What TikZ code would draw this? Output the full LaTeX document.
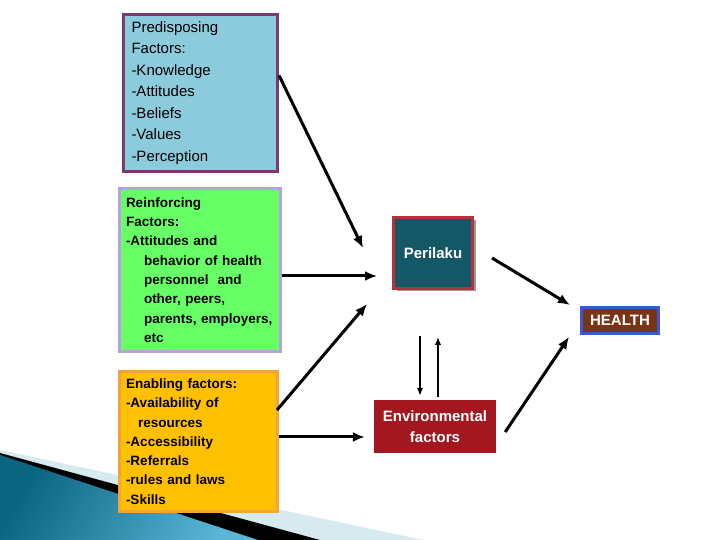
\documentclass[tikz,border=0pt]{standalone}
\usepackage{fontspec}
\setmainfont{Liberation Sans}
\usetikzlibrary{arrows.meta,shadows}

\begin{document}
\begin{tikzpicture}[x=1pt,y=1pt,
    box/.style={rectangle, line width=3pt, anchor=center},
    boxtext/.style={font=\fontsize{13.5}{19.3}\selectfont\bfseries, align=left},
    label/.style={font=\fontsize{15}{21}\selectfont\bfseries, text=white, align=center},
    arr/.style={line width=3pt, -{Latex[length=12pt,width=10pt]}},
    thinarr/.style={line width=1.5pt, -{Latex[length=8pt,width=6.5pt]}}]

    % 色の設定
    \definecolor{predfill}{HTML}{8CCBDC}
    \definecolor{predline}{HTML}{7A3A6E}
    \definecolor{reinffill}{HTML}{66FF66}
    \definecolor{reinfline}{HTML}{B9A2DC}
    \definecolor{enabfill}{HTML}{FFC000}
    \definecolor{enabline}{HTML}{F2A33A}
    \definecolor{perfill}{HTML}{145868}
    \definecolor{perline}{HTML}{B5313B}
    \definecolor{healthfill}{HTML}{7A3315}
    \definecolor{healthline}{HTML}{3A5BD0}
    \definecolor{envfill}{HTML}{A31820}
    \definecolor{swooshlight}{HTML}{D6EAF0}
    \definecolor{swooshdark}{HTML}{0B6480}
    \definecolor{swooshmid}{HTML}{5BB5D6}

    \useasboundingbox (0,0) rectangle (720,540);

    % 左下の飾り
    \fill[swooshlight] (0,90) -- (423,0) -- (0,0) -- cycle;
    \fill[black] (0,87) -- (320,0) -- (0,0) -- cycle;
    \shade[left color=swooshdark, right color=swooshmid, shading angle=60]
        (0,85) -- (258,0) -- (0,0) -- cycle;

    % 左の三つの要因
    \node[box, draw=predline, fill=predfill, minimum width=154pt, minimum height=157pt,
          text width=138pt, inner xsep=8pt, align=left,
          font=\fontsize{15}{21.5}\selectfont] (pred) at (200.5,447)
        {Predisposing\\Factors:\\-Knowledge\\-Attitudes\\-Beliefs\\-Values\\-Perception};

    \node[box, boxtext, draw=reinfline, fill=reinffill, minimum width=161pt, minimum height=163pt,
          text width=148pt, inner xsep=6.5pt] (reinf) at (200,270)
        {Reinforcing\\Factors:\\-Attitudes and\\\hspace*{18pt}behavior of health\\
         \hspace*{18pt}personnel\ \ and\\\hspace*{18pt}other, peers,\\
         \hspace*{18pt}parents, employers,\\\hspace*{18pt}etc};

    \node[box, boxtext, draw=enabline, fill=enabfill, minimum width=158pt, minimum height=140pt,
          text width=145pt, inner xsep=6.5pt] (enab) at (198.5,98.5)
        {Enabling factors:\\-Availability of\\\hspace*{12pt}resources\\-Accessibility\\
         -Referrals\\-rules and laws\\-Skills};

    % 右側の箱
    \node[box, label, draw=perline, fill=perfill, minimum width=79pt, minimum height=71pt,
          drop shadow={shadow xshift=3pt, shadow yshift=-3pt, fill=gray, opacity=0.8}]
        (per) at (433,287) {Perilaku};

    \node[box, label, draw=healthline, fill=healthfill, minimum width=77pt, minimum height=26pt]
        (health) at (620,219.5) {HEALTH};

    \node[rectangle, label, fill=envfill, minimum width=122pt, minimum height=53pt, inner sep=0pt]
        (env) at (435,113.5) {Environmental\\factors};

    % 矢印
    \draw[arr] ([yshift=-2pt]pred.14) -- ([xshift=-29pt,yshift=5pt]per.west);
    \draw[arr] ([yshift=-6pt]reinf.east) -- ([xshift=-15pt,yshift=-23pt]per.west);
    \draw[arr] ([xshift=-2pt,yshift=31.5pt]enab.east) -- ([xshift=-25pt,yshift=-14pt]per.south west);
    \draw[arr] ([yshift=4.5pt]enab.east) -- ([xshift=-9pt,yshift=-10.5pt]env.west);
    \draw[arr] ([xshift=18pt,yshift=-5pt]per.east) -- ([xshift=-10pt,yshift=15.5pt]health.west);
    \draw[arr] ([xshift=9pt,yshift=-5.5pt]env.east) -- ([xshift=-11pt,yshift=-16.5pt]health.west);

    % 上下の細い矢印
    \draw[thinarr] ([xshift=-13pt,yshift=-46pt]per.south) -- ([xshift=-15pt,yshift=4pt]env.north);
    \draw[thinarr] ([xshift=3pt,yshift=3pt]env.north) -- ([xshift=5pt,yshift=-47pt]per.south);

\end{tikzpicture}
\end{document}
